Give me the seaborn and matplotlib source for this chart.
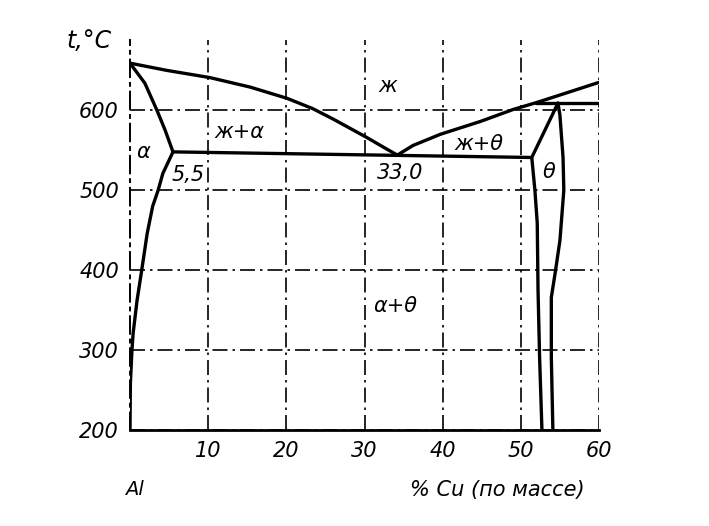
import numpy as np
import matplotlib
matplotlib.use("Agg")
from matplotlib import pyplot as plt
import seaborn as sns

# линии диаграммы Al-Cu
liq_left_x = [0, 4.7, 10.2, 15.4, 20.1, 23.4, 26.0, 30.3, 32.4, 34.2]
liq_left_t = [659, 650, 641, 629, 615, 602, 589, 566, 554, 544]
solidus_x = [0, 1.9, 3.45, 4.5, 5.5]
solidus_t = [659, 634, 600, 575, 548]
solvus_x = [5.5, 4.2, 3.6, 2.9, 2.2, 1.5, 0.9, 0.4, 0.25, 0.05, 0]
solvus_t = [548, 521, 500, 480, 446, 400, 362, 321, 300, 259, 200]
eutectic_x = [5.5, 51.4]
eutectic_t = [548, 541]
liq_right_x = [34.2, 36.2, 39.7, 44.8, 49.0, 52.1, 55.9, 60.0]
liq_right_t = [544, 556, 570, 586, 601, 610, 622, 635]
perit_x = [52.0, 60.0]
perit_t = [609, 609]
theta_left_x = [54.75, 51.4, 51.8, 52.1, 52.2, 52.4, 52.7]
theta_left_t = [609, 541, 500, 459, 375, 291, 200]
theta_right_x = [54.75, 55.0, 55.4, 55.5, 55.0, 54.4, 53.9, 53.9, 54.1]
theta_right_t = [609, 594, 541, 500, 437, 397, 366, 291, 200]

x_ticks = [10, 20, 30, 40, 50, 60]
y_ticks = [200, 300, 400, 500, 600]

# подписи областей
region_labels = ["ж", "ж+α", "α", "5,5", "33,0", "ж+θ", "θ", "α+θ"]
region_x = [33.0, 14.0, 1.7, 7.4, 34.6, 44.6, 53.6, 34.0]
region_t = [630, 573, 548, 519, 521, 558, 523, 355]

sns.set_style("white")
plt.rcParams['font.family'] = ['DejaVu Sans']
plt.rcParams['text.color'] = 'black'
plt.rcParams['xtick.color'] = 'black'
plt.rcParams['ytick.color'] = 'black'

dash_dot = (0, (9, 3, 1.5, 3))

fig = plt.figure(figsize=(7.09, 5.26), dpi=100)
ax = fig.add_axes([130 / 709, 1 - 430 / 526, (599 - 130) / 709, (430 - 40) / 526])

curves = [
    (liq_left_x, liq_left_t), (solidus_x, solidus_t), (solvus_x, solvus_t),
    (eutectic_x, eutectic_t), (liq_right_x, liq_right_t), (perit_x, perit_t),
    (theta_left_x, theta_left_t), (theta_right_x, theta_right_t),
]
for cx, ct in curves:
    sns.lineplot(x=cx, y=ct, sort=False, estimator=None, color="black",
                 linewidth=2.4, ax=ax, zorder=3)

ax.set_xlim(0, 60)
ax.set_ylim(200, 688)
ax.set_xticks(x_ticks)
ax.set_yticks(y_ticks)
ax.grid(True, color="black", linestyle=dash_dot, linewidth=1.2, zorder=1)
ax.tick_params(length=0, labelsize=15, pad=8, colors="black")
for lab in ax.get_xticklabels() + ax.get_yticklabels():
    lab.set_style("italic")

for side in ["top", "right"]:
    ax.spines[side].set_visible(False)
ax.spines["left"].set_linestyle(dash_dot)
ax.spines["left"].set_linewidth(1.4)
ax.spines["bottom"].set_linewidth(2.0)
ax.spines["left"].set_color("black")
ax.spines["bottom"].set_color("black")

for lab, lx, lt in zip(region_labels, region_x, region_t):
    ax.text(lx, lt, lab, fontsize=15, style="italic", ha="center", va="center", zorder=4)

ax.text(-5.2, 687, "t,°C", fontsize=17, style="italic", ha="center", va="center", clip_on=False)
ax.text(0.5, 125, "Al", fontsize=14, style="italic", ha="center", va="center", clip_on=False)
ax.text(47, 125, "% Cu (по массе)", fontsize=15, style="italic", ha="center", va="center", clip_on=False)

fig.savefig("out.png", dpi=100)
